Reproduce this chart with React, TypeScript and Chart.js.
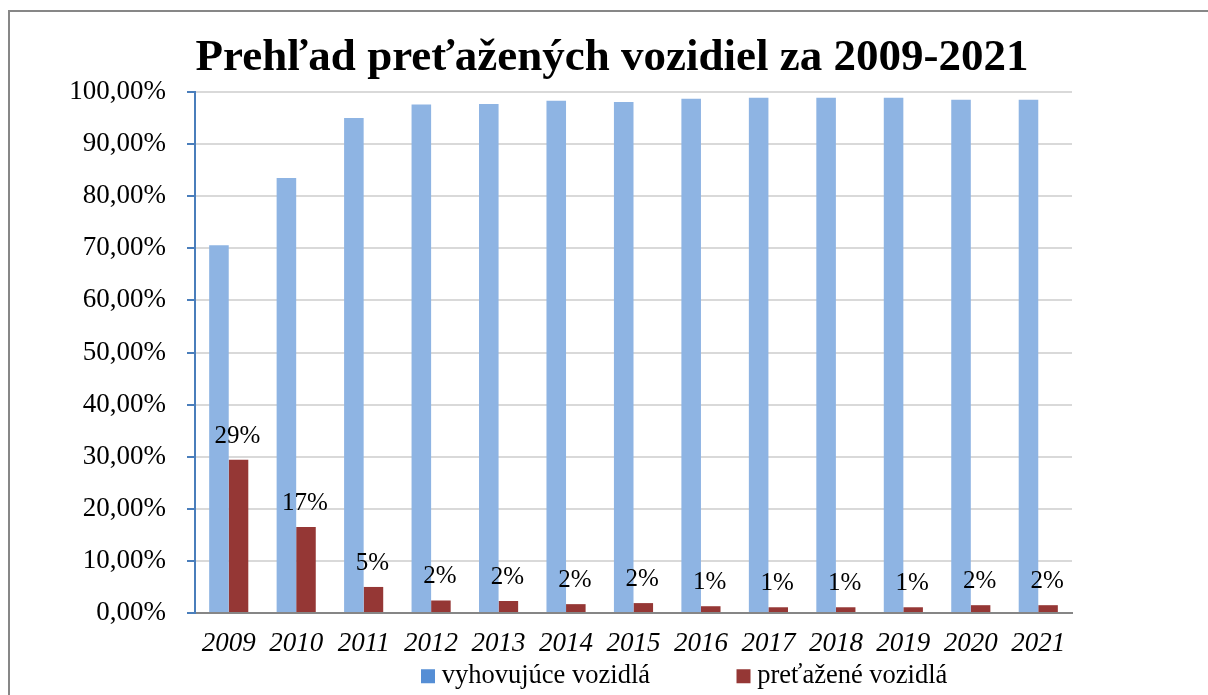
import React, { useEffect, useRef } from 'react';
import { Chart, registerables } from 'chart.js';

Chart.register(...registerables);

const titleText = 'Prehľad preťažených vozidiel za 2009-2021';
const years = ['2009', '2010', '2011', '2012', '2013', '2014', '2015', '2016', '2017', '2018', '2019', '2020', '2021'];
const seriesNames = ['vyhovujúce vozidlá', 'preťažené vozidlá'];
const okShare = [70.6, 83.5, 95.0, 97.6, 97.7, 98.3, 98.1, 98.7, 98.9, 98.9, 98.9, 98.5, 98.5];
const overShare = [29.4, 16.5, 5.0, 2.4, 2.3, 1.7, 1.9, 1.3, 1.1, 1.1, 1.1, 1.5, 1.5];
const yTicks = [0, 10, 20, 30, 40, 50, 60, 70, 80, 90, 100];

const SERIF = '"Liberation Serif", "Times New Roman", serif';
const BAR_BLUE = '#8EB4E3';
const BAR_RED = '#953735';
const LEGEND_BLUE = '#558ED5';
const LEGEND_PAD = 93;

const dataLabelPlugin = {
  id: 'overLabels',
  afterDatasetsDraw(chart: any) {
    const ctx = chart.ctx;
    const meta = chart.getDatasetMeta(1);
    const values = chart.data.datasets[1].data as number[];
    ctx.save();
    ctx.font = `25px ${SERIF}`;
    ctx.fillStyle = '#000000';
    ctx.textAlign = 'center';
    ctx.textBaseline = 'alphabetic';
    meta.data.forEach((bar: any, i: number) => {
      ctx.fillText(`${Math.round(values[i])}%`, bar.x - 1, bar.y - 17);
    });
    ctx.restore();
  },
};

const legendPlacePlugin = {
  id: 'legendPlace',
  afterLayout(chart: any) {
    const lg = chart.legend;
    if (!lg) return;
    lg.left = 419.5 - LEGEND_PAD;
    lg.right = chart.width;
    lg.top = 655 - LEGEND_PAD;
    lg.bottom = chart.height;
    lg.height = lg.bottom - lg.top;
    lg.width = lg.right - lg.left;
  },
};

export default function App() {
  const canvasRef = useRef<HTMLCanvasElement | null>(null);

  useEffect(() => {
    const canvas = canvasRef.current;
    if (!canvas) return;
    const chart = new Chart(canvas, {
      type: 'bar',
      data: {
        labels: years,
        datasets: [
          {
            label: seriesNames[0],
            data: okShare,
            backgroundColor: BAR_BLUE,
            borderWidth: 0,
            categoryPercentage: 0.58,
            barPercentage: 1.0,
          },
          {
            label: seriesNames[1],
            data: overShare,
            backgroundColor: BAR_RED,
            borderWidth: 0,
            categoryPercentage: 0.58,
            barPercentage: 1.0,
          },
        ],
      },
      options: {
        animation: false,
        responsive: false,
        devicePixelRatio: 1,
        events: [],
        layout: { padding: 0 },
        plugins: {
          tooltip: { enabled: false },
          title: {
            display: true,
            text: titleText,
            color: '#000000',
            font: { family: SERIF, size: 45, weight: 'bold', lineHeight: 1.2 },
            padding: { top: 23, bottom: 7 },
          },
          legend: {
            display: true,
            position: 'bottom',
            align: 'start',
            maxHeight: 35,
            labels: {
              color: '#000000',
              font: { family: SERIF, size: 26.5 },
              usePointStyle: true,
              pointStyle: 'rect',
              boxWidth: 1,
              boxHeight: 14,
              padding: LEGEND_PAD,
              generateLabels: (chart: any) =>
                chart.data.datasets.map((ds: any, i: number) => ({
                  text: ds.label,
                  fillStyle: i === 0 ? LEGEND_BLUE : BAR_RED,
                  strokeStyle: i === 0 ? LEGEND_BLUE : BAR_RED,
                  fontColor: '#000000',
                  lineWidth: 0,
                  pointStyle: 'rect',
                  rotation: 0,
                  hidden: false,
                  datasetIndex: i,
                })),
            },
          },
        },
        scales: {
          x: {
            grid: { display: false, drawTicks: false },
            border: { display: true, color: '#868686', width: 2 },
            ticks: {
              color: '#000000',
              font: { family: SERIF, size: 27, style: 'italic' },
              padding: 15,
              maxRotation: 0,
              autoSkip: false,
            },
            afterFit: (s: any) => {
              s.height = 47;
            },
          },
          y: {
            min: 0,
            max: 100,
            position: 'left',
            afterBuildTicks: (s: any) => {
              s.ticks = yTicks.map((v) => ({ value: v }));
            },
            grid: {
              color: (c: any) => (c.tick && c.tick.value === 0 ? 'rgba(0,0,0,0)' : '#d9d9d9'),
              lineWidth: 2,
              drawTicks: true,
              tickLength: 8,
              tickColor: '#4A7EBB',
            },
            border: { display: true, color: '#4A7EBB', width: 2 },
            ticks: {
              color: '#000000',
              font: { family: SERIF, size: 27 },
              padding: 21,
              callback: (v: any) => `${Number(v).toFixed(2).replace('.', ',')}%`,
            },
            afterFit: (s: any) => {
              s.width = 187;
            },
          },
          yRight: {
            type: 'linear',
            position: 'right',
            min: 0,
            max: 1,
            display: true,
            grid: { display: false, drawTicks: false },
            border: { display: false },
            ticks: { display: false },
            afterFit: (s: any) => {
              s.width = 144;
            },
          },
        },
      } as any,
      plugins: [dataLabelPlugin, legendPlacePlugin],
    });
    return () => chart.destroy();
  }, []);

  return (
    <div
      style={{
        position: 'fixed',
        left: 0,
        top: 0,
        width: 1208,
        height: 695,
        overflow: 'hidden',
        background: '#ffffff',
      }}
    >
      <div
        style={{
          position: 'absolute',
          left: 8,
          top: 10,
          width: 1400,
          height: 900,
          border: '2px solid #878787',
          boxSizing: 'border-box',
        }}
      />
      <canvas
        ref={canvasRef}
        width={1208}
        height={687}
        style={{ position: 'absolute', left: 8, top: 8, width: 1208, height: 687 }}
      />
    </div>
  );
}
